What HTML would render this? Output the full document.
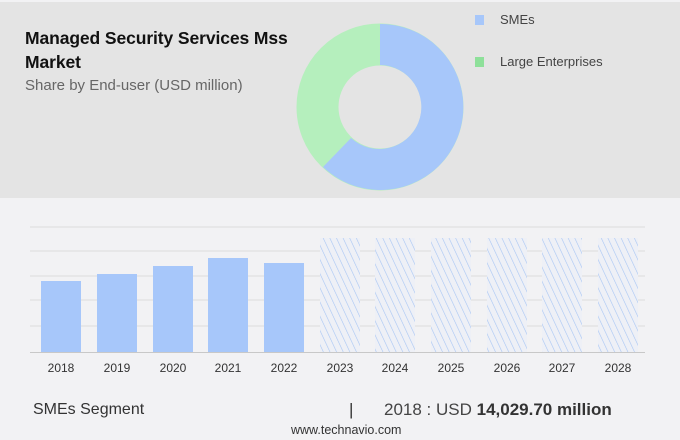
<!DOCTYPE html><html><head><style>
body{margin:0;width:680px;height:440px;background:#f2f2f4;font-family:"Liberation Sans",sans-serif;position:relative;overflow:hidden}
.t{position:absolute;white-space:nowrap}
</style></head><body>
<div style="position:absolute;left:0;top:2px;width:680px;height:196px;background:#e4e4e4"></div>
<div class="t" style="left:25px;top:26px;font-size:17.5px;font-weight:bold;color:#111;line-height:24px;letter-spacing:-0.1px">Managed Security Services Mss<br>Market</div>
<div class="t" style="left:25px;top:77px;font-size:15px;color:#666">Share by End-user (USD million)</div>
<svg style="position:absolute;left:0;top:0" width="680" height="440">
<defs><pattern id="h" width="6" height="6" patternUnits="userSpaceOnUse" patternTransform="rotate(-25)"><rect width="6" height="6" fill="#eef0f6"/><line x1="0" y1="0" x2="0" y2="6" stroke="#a8c6f4" stroke-width="1.2"/></pattern></defs>
<circle cx="380" cy="107" r="62.5" fill="none" stroke="#b5efbd" stroke-width="42"/>
<path d="M380 24 A83 83 0 1 1 323 167 L351 138 A42 42 0 1 0 380 65 Z" fill="#a7c7fa"/>
<rect x="475" y="15" width="9" height="10" fill="#a7c7fa"/>
<rect x="475" y="57" width="9" height="10" fill="#8ee09a"/>
<g stroke="#dcdcdc" stroke-width="1"><line x1="30" y1="227" x2="645" y2="227"/><line x1="30" y1="251" x2="645" y2="251"/><line x1="30" y1="276" x2="645" y2="276"/><line x1="30" y1="300" x2="645" y2="300"/><line x1="30" y1="326" x2="645" y2="326"/></g>
<line x1="30" y1="352.5" x2="645" y2="352.5" stroke="#c8c8c8"/>
<g fill="#a7c7fa"><rect x="41" y="281" width="40" height="71"/><rect x="97" y="274" width="40" height="78"/><rect x="153" y="266" width="40" height="86"/><rect x="208" y="258" width="40" height="94"/><rect x="264" y="263" width="40" height="89"/></g>
<g fill="url(#h)"><rect x="320" y="238" width="40" height="114"/><rect x="375" y="238" width="40" height="114"/><rect x="431" y="238" width="40" height="114"/><rect x="487" y="238" width="40" height="114"/><rect x="542" y="238" width="40" height="114"/><rect x="598" y="238" width="40" height="114"/></g>
<g font-size="12" fill="#333" text-anchor="middle" font-family="Liberation Sans,sans-serif"><text x="61" y="372">2018</text><text x="117" y="372">2019</text><text x="173" y="372">2020</text><text x="228" y="372">2021</text><text x="284" y="372">2022</text><text x="340" y="372">2023</text><text x="395" y="372">2024</text><text x="451" y="372">2025</text><text x="507" y="372">2026</text><text x="562" y="372">2027</text><text x="618" y="372">2028</text></g>
</svg>
<div class="t" style="left:500px;top:12px;font-size:13px;color:#444">SMEs</div>
<div class="t" style="left:500px;top:54px;font-size:13px;color:#444">Large Enterprises</div>
<div class="t" style="left:33px;top:401px;font-size:16px;color:#333">SMEs Segment</div>
<div class="t" style="left:349px;top:400px;font-size:17px;color:#333">|</div>
<div class="t" style="left:384px;top:400px;font-size:17px;color:#444">2018 : USD <b style="color:#333">14,029.70 million</b></div>
<div class="t" style="left:291px;top:423px;font-size:12.5px;color:#333">www.technavio.com</div>
</body></html>
